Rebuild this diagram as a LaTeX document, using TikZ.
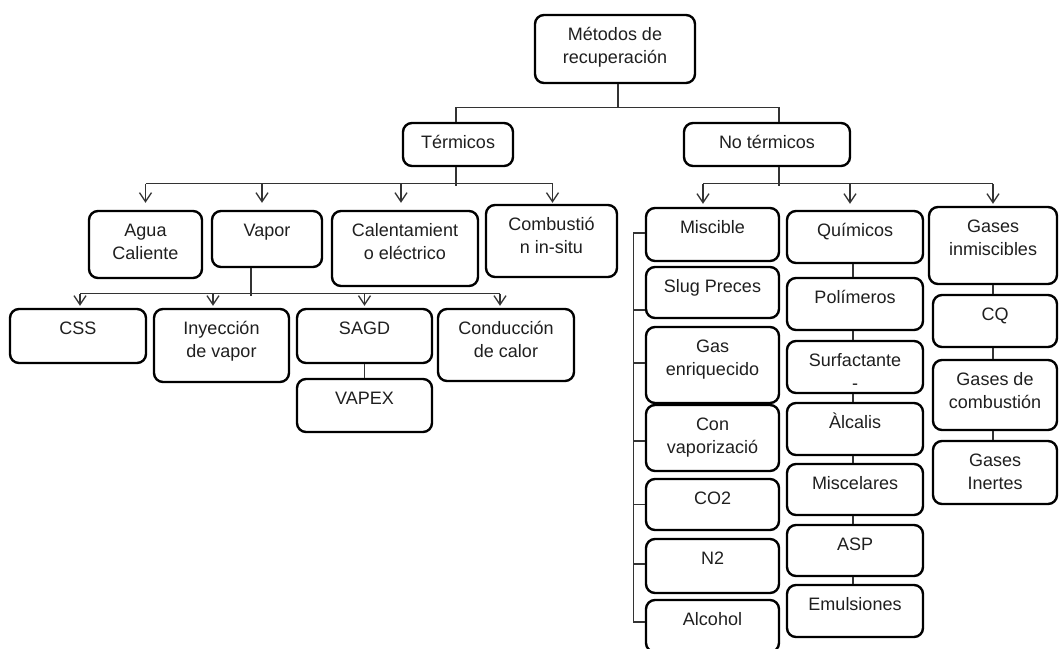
\documentclass[tikz,border=0pt]{standalone}
\usepackage{fontspec}
\setmainfont{Liberation Sans}
\usetikzlibrary{arrows.meta}
\tikzset{
  box/.style={draw=black, line width=2.4pt, rounded corners=9pt, inner sep=0pt, fill=white},
  txt/.style={font=\fontsize{18}{23}\selectfont, align=center, text=black!88, inner sep=0pt, anchor=north},
  conn/.style={draw=black!80, line width=1.3pt},
  arr/.style={conn, -{Straight Barb[length=9pt,width=12pt]}},
}
% \bx{name}{x1}{y1}{x2}{y2}{text}
\newcommand{\bx}[6]{%
  \node[box, minimum width={#4-#2}, minimum height={#5-#3}] (#1) at ({(#2+#4)/2},{(#3+#5)/2}) {};
  \node[txt] (#1-t) at ([yshift=-10.5pt]#1.north) {\strut #6};
}
\begin{document}
\begin{tikzpicture}[x=1pt, y=-1pt]
\useasboundingbox (0,0) rectangle (1059,648);
\clip (0,0) rectangle (1059,648);
\fill[white] (0,0) rectangle (1059,648);

% level 0 and 1
\bx{m}{535}{15}{695}{83}{Métodos de\\recuperación}
\bx{t}{403}{123}{513}{166}{Térmicos}
\bx{nt}{684}{123}{850}{166}{No térmicos}

% children of Térmicos
\bx{ag}{89}{211}{202}{278}{Agua\\Caliente}
\bx{va}{212}{211}{322}{267}{Vapor}
\bx{ca}{332}{211}{478}{286}{Calentamient\\o eléctrico}
\bx{co}{486}{205}{617}{277}{Combustió\\n in-situ}

% children of Vapor
\bx{css}{10}{309}{146}{363}{CSS}
\bx{iny}{154}{309}{289}{382}{Inyección\\de vapor}
\bx{sagd}{297}{309}{432}{363}{SAGD}
\bx{cond}{438}{309}{574}{381}{Conducción\\de calor}
\bx{vapex}{297}{379}{432}{432}{VAPEX}

% No térmicos: Miscible column
\bx{mis}{646}{208}{779}{261}{Miscible}
\bx{slug}{646}{267}{779}{318}{Slug Preces}
\bx{gas}{646}{327}{779}{403}{Gas\\enriquecido}
\bx{con}{646}{405}{779}{471}{Con\\vaporizació}
\bx{co2}{646}{479}{779}{530}{CO2}
\bx{n2}{646}{539}{779}{593}{N2}
\bx{alc}{646}{600}{779}{652}{Alcohol}

% Químicos column
\bx{qui}{787}{211}{923}{263}{Químicos}
\bx{pol}{787}{278}{923}{330}{Polímeros}
\bx{sur}{787}{341}{923}{393}{Surfactante\\-}
\bx{alk}{787}{403}{923}{455}{Àlcalis}
\bx{misc}{787}{464}{923}{515}{Miscelares}
\bx{asp}{787}{525}{923}{576}{ASP}
\bx{emu}{787}{585}{923}{637}{Emulsiones}

% Gases inmiscibles column
\bx{gi}{929}{207}{1057}{284}{Gases\\inmiscibles}
\bx{cq}{933}{295}{1057}{347}{CQ}
\bx{gc}{933}{360}{1057}{430}{Gases de\\combustión}
\bx{gin}{933}{441}{1057}{504}{Gases\\Inertes}

% connectors: root
\draw[conn] ([xshift=3pt]m.south) -- ++(0,23) coordinate (mj);
\draw[conn] ([xshift=-2pt]t.north) |- (mj) -| ([xshift=12pt]nt.north);

% Térmicos
\draw[conn] ([xshift=-2pt]t.south) -- ++(0,19) coordinate (tj);
\draw[conn] ([yshift=26pt]ag.north) -- ([xshift=1pt,yshift=20pt]co.north);
\draw[arr] ([yshift=26pt]ag.north) -- ([yshift=7pt]ag.north);
\draw[arr] ([xshift=-5pt,yshift=26pt]va.north) -- ([xshift=-5pt,yshift=7pt]va.north);
\draw[arr] ([xshift=-4pt,yshift=26pt]ca.north) -- ([xshift=-4pt,yshift=7pt]ca.north);
\draw[arr] ([xshift=1pt,yshift=20pt]co.north) -- ([xshift=1pt,yshift=1pt]co.north);

% Vapor
\draw[conn] ([xshift=-16pt]va.south) -- ++(0,28) coordinate (vj);
\draw[conn] ([xshift=2pt,yshift=14pt]css.north) -- ([xshift=-6pt,yshift=14pt]cond.north);
\draw[arr] ([xshift=2pt,yshift=14pt]css.north) -- ([xshift=2pt,yshift=2pt]css.north);
\draw[arr] ([xshift=-8.5pt,yshift=14pt]iny.north) -- ([xshift=-8.5pt,yshift=2pt]iny.north);
\draw[arr] ([yshift=14pt]sagd.north) -- ([yshift=2pt]sagd.north);
\draw[arr] ([xshift=-6pt,yshift=14pt]cond.north) -- ([xshift=-6pt,yshift=2pt]cond.north);
\draw[conn] (sagd.south) -- (vapex.north);

% No térmicos
\draw[conn] ([xshift=12pt]nt.south) -- ++(0,19) coordinate (nj);
\draw[conn] ([xshift=-9.5pt,yshift=23pt]mis.north) -- ([yshift=22pt]gi.north);
\draw[arr] ([xshift=-9.5pt,yshift=23pt]mis.north) -- ([xshift=-9.5pt,yshift=3pt]mis.north);
\draw[arr] ([xshift=-5pt,yshift=26pt]qui.north) -- ([xshift=-5pt,yshift=6pt]qui.north);
\draw[arr] ([yshift=22pt]gi.north) -- ([yshift=2pt]gi.north);

% Miscible bracket
\draw[conn] ([yshift=1.5pt]mis.west) -- ++(-11,0) coordinate (b1) -- ([xshift=-11pt,yshift=4pt]alc.west) -- ([yshift=4pt]alc.west);
\draw[conn] ([yshift=-17.5pt]slug.west) -- ++(-11,0);
\draw[conn] ([yshift=2pt]gas.west) -- ++(-11,0);
\draw[conn] ([yshift=-3pt]con.west) -- ++(-11,0);
\draw[conn] (co2.west) -- ++(-11,0);
\draw[conn] ([yshift=2pt]n2.west) -- ++(-11,0);

% Químicos chain
\draw[conn] ([xshift=-2pt]qui.south) -- ([xshift=-2pt]pol.north);
\draw[conn] ([xshift=-2pt]pol.south) -- ([xshift=-2pt]sur.north);
\draw[conn] ([xshift=-2pt]sur.south) -- ([xshift=-2pt]alk.north);
\draw[conn] ([xshift=-2pt]alk.south) -- ([xshift=-2pt]misc.north);
\draw[conn] ([xshift=-2pt]misc.south) -- ([xshift=-2pt]asp.north);
\draw[conn] ([xshift=-2pt]asp.south) -- ([xshift=-2pt]emu.north);

% Gases chain
\draw[conn] (gi.south) -- ([xshift=-2pt]cq.north);
\draw[conn] ([xshift=-2pt]cq.south) -- ([xshift=-2pt]gc.north);
\draw[conn] ([xshift=-2pt]gc.south) -- ([xshift=-2pt]gin.north);
\end{tikzpicture}
\end{document}
